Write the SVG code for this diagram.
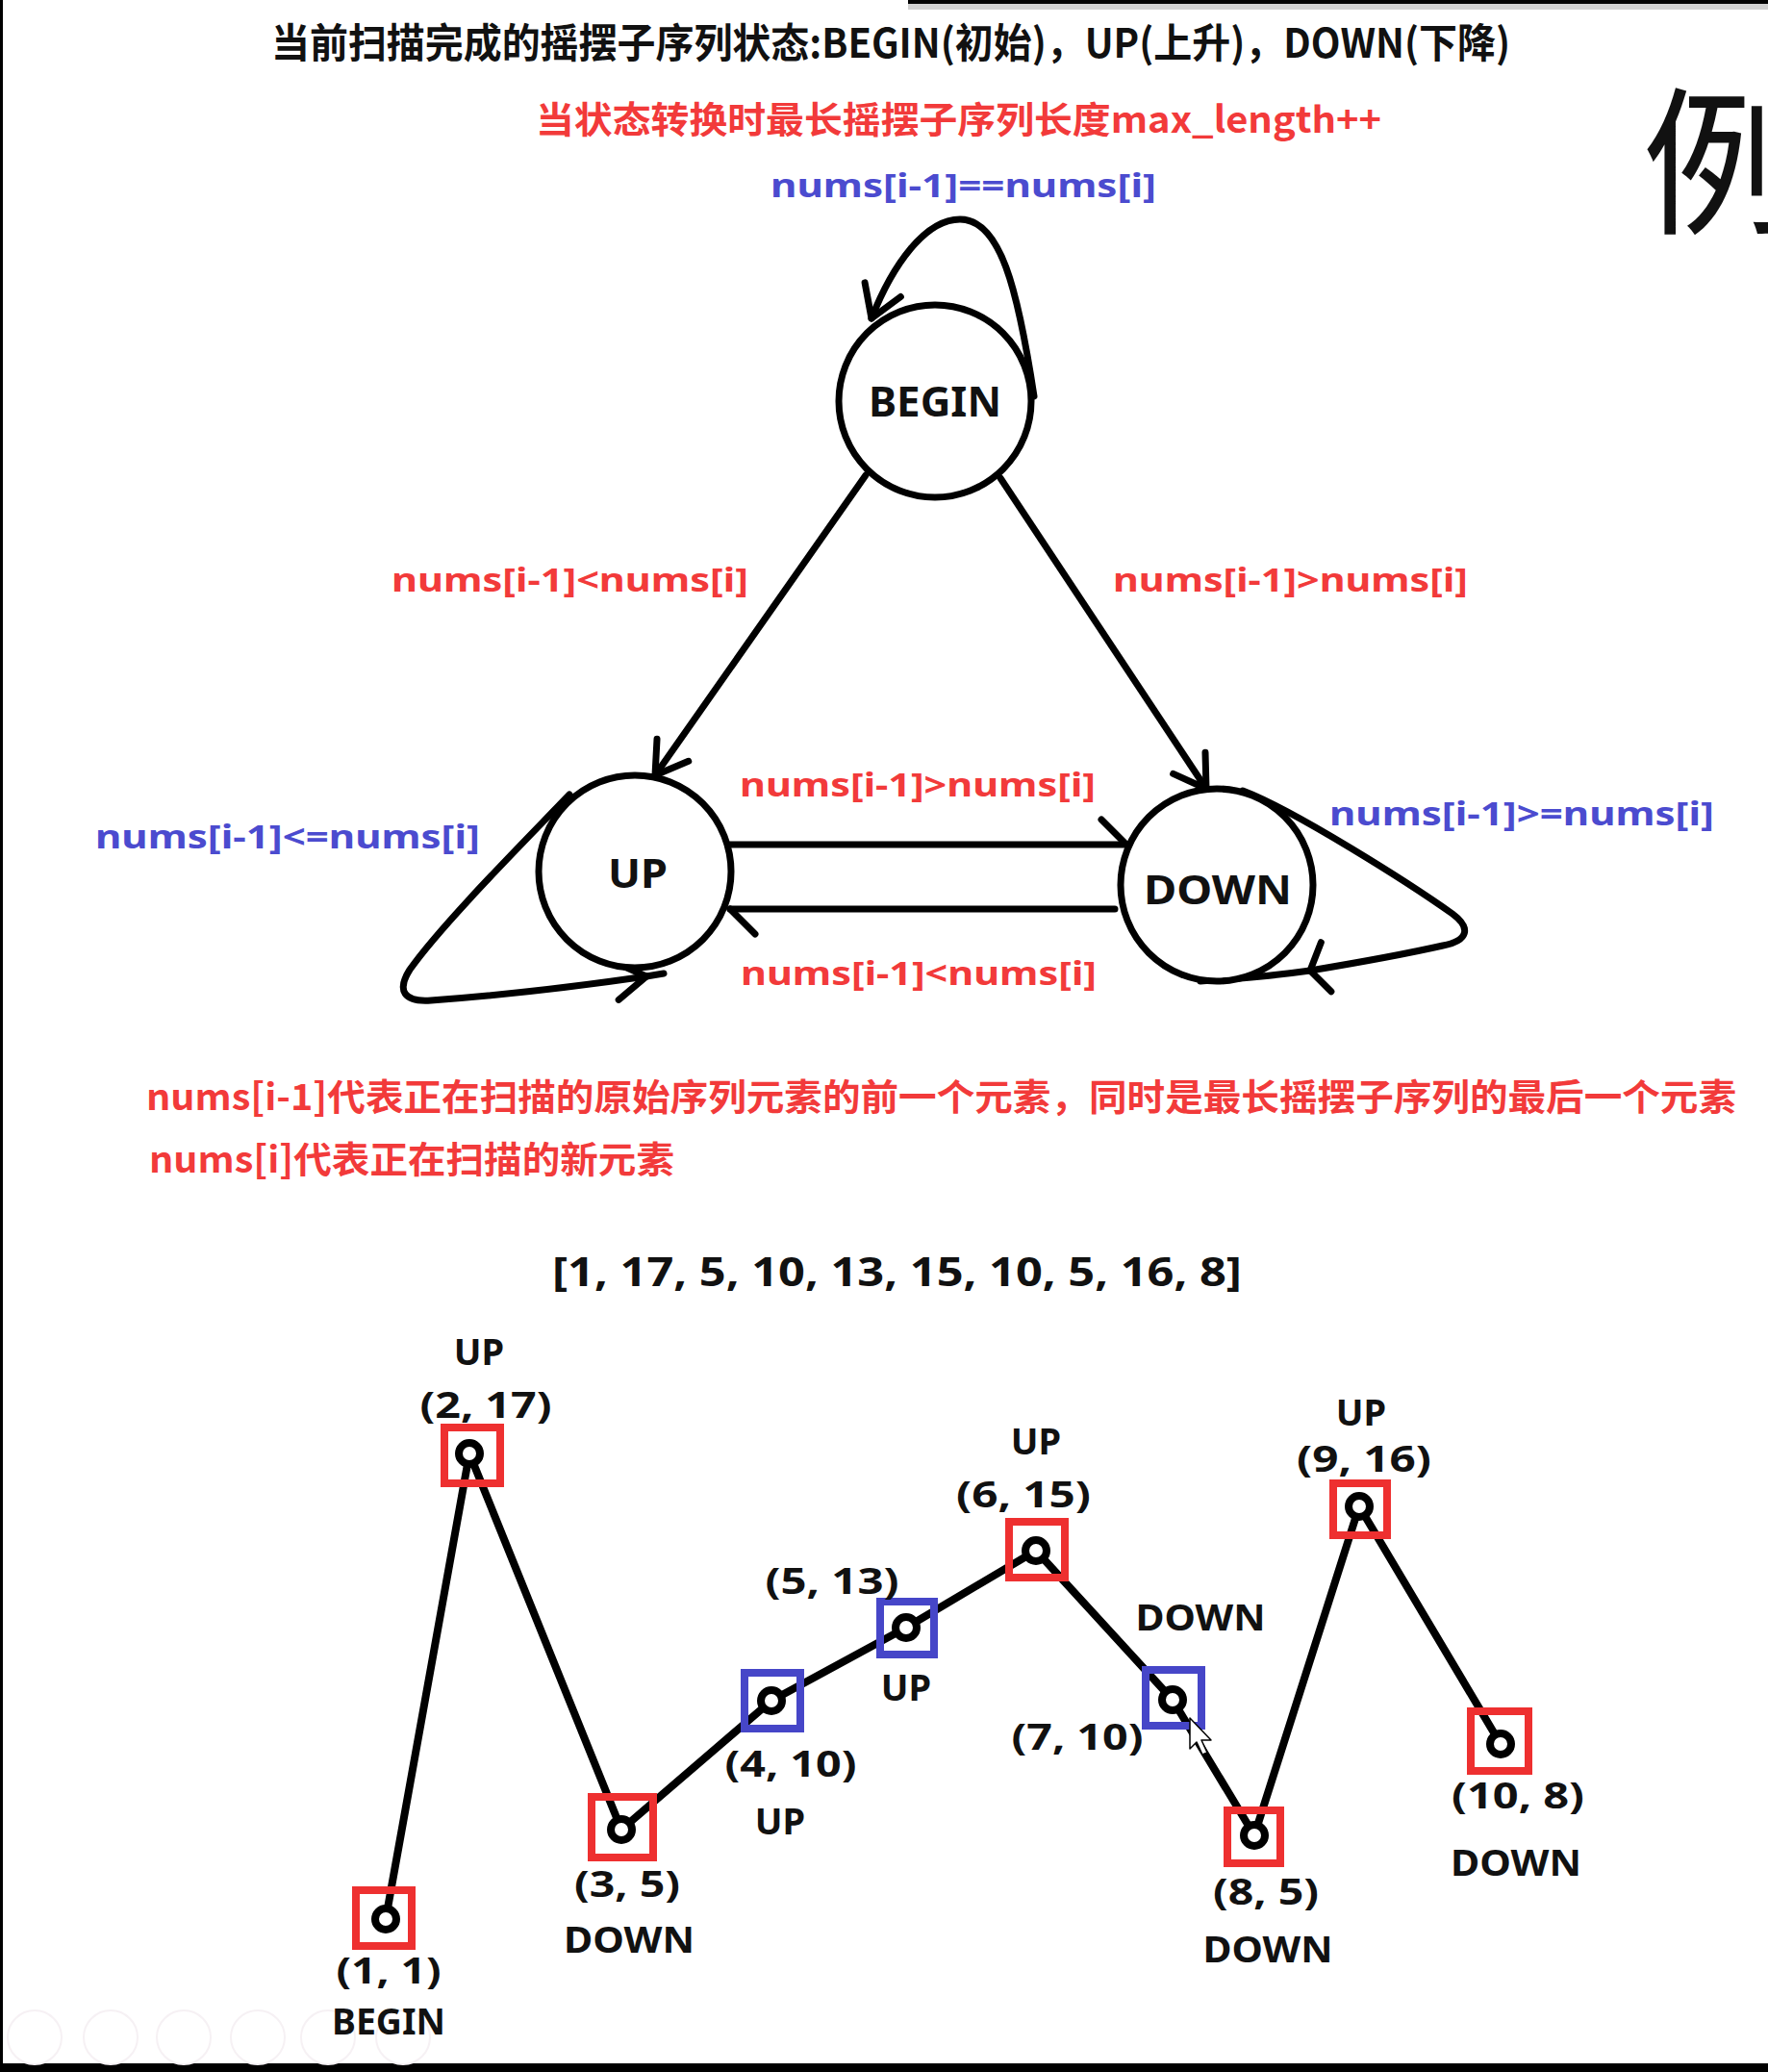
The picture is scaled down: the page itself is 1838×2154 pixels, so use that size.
<svg xmlns="http://www.w3.org/2000/svg" width="1838" height="2154" viewBox="0 0 1838 2154">
<style>
.t{font-family:"Noto Sans","Open Sans","Liberation Sans",sans-serif;font-weight:bold;fill:#111;}
.cjk{font-family:"Noto Sans CJK SC","Noto Sans",sans-serif;font-weight:bold;}
.red{fill:#f23a3a;}
.blue{fill:#4b4bcf;}
.st{fill:#fff;stroke:#000;stroke-width:7;}
.edge{fill:none;stroke:#000;stroke-width:7;stroke-linecap:round;stroke-linejoin:round;}
.chain{fill:none;stroke:#000;stroke-width:8;stroke-linecap:round;stroke-linejoin:round;}
.sqr{fill:none;stroke:#ee3030;stroke-width:8;}
.sqb{fill:none;stroke:#4646c8;stroke-width:8;}
.dot{fill:#fff;stroke:#000;stroke-width:8;}
.ic{fill:none;stroke:#f6f1f4;stroke-width:2;}
</style>
<defs>
<marker id="arr" markerUnits="userSpaceOnUse" markerWidth="80" markerHeight="80" viewBox="-50 -40 80 80" refX="0" refY="0" orient="auto">
<path d="M-32,-20 L0,0 L-32,20" fill="none" stroke="#000" stroke-width="7" stroke-linecap="round" stroke-linejoin="round"/>
</marker>
<marker id="arrw" markerUnits="userSpaceOnUse" markerWidth="80" markerHeight="80" viewBox="-50 -40 80 80" refX="0" refY="0" orient="auto">
<path d="M-18,-25 L0,0 L-16,27" fill="none" stroke="#000" stroke-width="7" stroke-linecap="round" stroke-linejoin="round"/>
</marker>
<marker id="harp" markerUnits="userSpaceOnUse" markerWidth="80" markerHeight="80" viewBox="-50 -40 80 80" refX="0" refY="0" orient="auto">
<path d="M-26,-26 L0,0" fill="none" stroke="#000" stroke-width="7" stroke-linecap="round"/>
</marker>
</defs>
<rect x="0" y="0" width="1838" height="2154" fill="#fff"/>
<rect x="944" y="0" width="894" height="10" fill="#cfcfcf"/>
<rect x="944" y="0" width="894" height="4" fill="#000"/>
<rect x="0" y="0" width="3" height="2154" fill="#000"/>
<rect x="0" y="2145" width="1838" height="9" fill="#000"/>

<g id="toolbar">
<circle class="ic" cx="36" cy="2118" r="28"/>
<circle class="ic" cx="115" cy="2118" r="28"/>
<circle class="ic" cx="191" cy="2118" r="28"/>
<circle class="ic" cx="268" cy="2118" r="28"/>
<circle class="ic" cx="341" cy="2118" r="28"/>
<circle class="ic" cx="419" cy="2118" r="28"/>
</g>

<g id="headings">
<text class="t cjk" x="282" y="60" font-size="42" textLength="1288" lengthAdjust="spacingAndGlyphs">当前扫描完成的摇摆子序列状态:BEGIN(初始)，UP(上升)，DOWN(下降)</text>
<text class="t cjk red" x="557" y="138" font-size="38" textLength="879" lengthAdjust="spacingAndGlyphs">当状态转换时最长摇摆子序列长度max_length++</text>
<text x="1707" y="230" font-size="165" font-family="Noto Sans CJK SC,sans-serif" fill="#111">例</text>
</g>

<g id="connectors">
<path class="edge" d="M1075,412 C1058,300 1040,228 998,228 C962,228 928,275 906,331" marker-end="url(#arr)"/>
<path class="edge" d="M900,494 L681,806" marker-end="url(#arr)"/>
<path class="edge" d="M1040,497 L1254,820" marker-end="url(#arr)"/>
<path class="edge" d="M759,878 L1171,878" stroke-width="8" marker-end="url(#harp)"/>
<path class="edge" d="M1159,945 L759,945" stroke-width="8" marker-end="url(#harp)"/>
<path class="edge" d="M592,826 C545,875 460,960 426,1008 C412,1030 420,1042 448,1040 C530,1034 610,1024 672,1015" marker-end="url(#arr)"/>
<path class="edge" d="M672,1015 L690,1012"/>
<path class="edge" d="M1292,822 C1345,842 1465,918 1510,950 C1530,965 1526,978 1500,983 C1460,992 1410,1001 1362,1009" marker-end="url(#arrw)"/>
<path class="edge" d="M1362,1009 C1320,1015 1280,1018 1248,1020"/>
</g>

<g id="state-begin">
<circle class="st" cx="972" cy="417" r="100"/>
<text class="t" x="972" y="433" font-size="43" text-anchor="middle" textLength="138" lengthAdjust="spacingAndGlyphs">BEGIN</text>
</g>
<g id="state-up">
<circle class="st" cx="660" cy="906" r="100"/>
<text class="t" x="663" y="923" font-size="42" text-anchor="middle" textLength="62" lengthAdjust="spacingAndGlyphs">UP</text>
</g>
<g id="state-down">
<circle class="st" cx="1265" cy="920" r="100"/>
<text class="t" x="1266" y="940" font-size="42" text-anchor="middle" textLength="154" lengthAdjust="spacingAndGlyphs">DOWN</text>
</g>

<g id="edge-labels" font-size="34">
<text class="t blue" x="801" y="205" font-size="34" textLength="401" lengthAdjust="spacingAndGlyphs">nums[i-1]==nums[i]</text>
<text class="t red" x="407" y="615" font-size="34" textLength="371" lengthAdjust="spacingAndGlyphs">nums[i-1]&lt;nums[i]</text>
<text class="t red" x="1157" y="615" font-size="34" textLength="369" lengthAdjust="spacingAndGlyphs">nums[i-1]&gt;nums[i]</text>
<text class="t red" x="769" y="828" font-size="34" textLength="370" lengthAdjust="spacingAndGlyphs">nums[i-1]&gt;nums[i]</text>
<text class="t red" x="770" y="1024" font-size="34" textLength="370" lengthAdjust="spacingAndGlyphs">nums[i-1]&lt;nums[i]</text>
<text class="t blue" x="99" y="882" font-size="34" textLength="400" lengthAdjust="spacingAndGlyphs">nums[i-1]&lt;=nums[i]</text>
<text class="t blue" x="1382" y="858" font-size="34" textLength="400" lengthAdjust="spacingAndGlyphs">nums[i-1]&gt;=nums[i]</text>
</g>

<g id="notes">
<text class="t cjk red" x="152" y="1154" font-size="38" textLength="1653" lengthAdjust="spacingAndGlyphs">nums[i-1]代表正在扫描的原始序列元素的前一个元素，同时是最长摇摆子序列的最后一个元素</text>
<text class="t cjk red" x="155" y="1219" font-size="38" textLength="546" lengthAdjust="spacingAndGlyphs">nums[i]代表正在扫描的新元素</text>
<text class="t" x="574" y="1337" font-size="42" textLength="717" lengthAdjust="spacingAndGlyphs">[1, 17, 5, 10, 13, 15, 10, 5, 16, 8]</text>
</g>

<g id="sequence-lines">
<polyline class="chain" points="401,1995 488,1511 646,1902 802,1768 942,1692 1077,1612 1219,1767 1304,1908 1413,1566 1560,1813"/>
</g>

<g id="p1"><rect class="sqr" x="370" y="1965" width="58" height="58"/><circle class="dot" cx="401" cy="1995" r="11"/>
<text class="t" x="404" y="2062" font-size="38" text-anchor="middle" textLength="109" lengthAdjust="spacingAndGlyphs">(1, 1)</text>
<text class="t" x="404" y="2115" font-size="38" text-anchor="middle" textLength="118" lengthAdjust="spacingAndGlyphs">BEGIN</text></g>

<g id="p2"><rect class="sqr" x="462" y="1484" width="58" height="58"/><circle class="dot" cx="488" cy="1511" r="11"/>
<text class="t" x="498" y="1419" font-size="38" text-anchor="middle">UP</text>
<text class="t" x="505" y="1474" font-size="38" text-anchor="middle" textLength="137" lengthAdjust="spacingAndGlyphs">(2, 17)</text></g>

<g id="p3"><rect class="sqr" x="615" y="1868" width="64" height="63"/><circle class="dot" cx="646" cy="1902" r="11"/>
<text class="t" x="652" y="1972" font-size="38" text-anchor="middle" textLength="110" lengthAdjust="spacingAndGlyphs">(3, 5)</text>
<text class="t" x="654" y="2030" font-size="38" text-anchor="middle" textLength="136" lengthAdjust="spacingAndGlyphs">DOWN</text></g>

<g id="p4"><rect class="sqb" x="774" y="1739" width="58" height="58"/><circle class="dot" cx="802" cy="1768" r="11"/>
<text class="t" x="822" y="1847" font-size="38" text-anchor="middle" textLength="137" lengthAdjust="spacingAndGlyphs">(4, 10)</text>
<text class="t" x="811" y="1907" font-size="38" text-anchor="middle">UP</text></g>

<g id="p5"><rect class="sqb" x="915" y="1665" width="56" height="55"/><circle class="dot" cx="942" cy="1692" r="11"/>
<text class="t" x="865" y="1657" font-size="38" text-anchor="middle" textLength="139" lengthAdjust="spacingAndGlyphs">(5, 13)</text>
<text class="t" x="942" y="1768" font-size="38" text-anchor="middle">UP</text></g>

<g id="p6"><rect class="sqr" x="1049" y="1582" width="58" height="58"/><circle class="dot" cx="1077" cy="1612" r="11"/>
<text class="t" x="1077" y="1512" font-size="38" text-anchor="middle">UP</text>
<text class="t" x="1064" y="1567" font-size="38" text-anchor="middle" textLength="140" lengthAdjust="spacingAndGlyphs">(6, 15)</text></g>

<g id="p7"><rect class="sqb" x="1191" y="1736" width="58" height="58"/><circle class="dot" cx="1219" cy="1767" r="11"/>
<text class="t" x="1248" y="1695" font-size="38" text-anchor="middle" textLength="135" lengthAdjust="spacingAndGlyphs">DOWN</text>
<text class="t" x="1120" y="1819" font-size="38" text-anchor="middle" textLength="137" lengthAdjust="spacingAndGlyphs">(7, 10)</text></g>

<g id="p8"><rect class="sqr" x="1276" y="1882" width="55" height="55"/><circle class="dot" cx="1304" cy="1908" r="11"/>
<text class="t" x="1316" y="1980" font-size="38" text-anchor="middle" textLength="110" lengthAdjust="spacingAndGlyphs">(8, 5)</text>
<text class="t" x="1318" y="2040" font-size="38" text-anchor="middle" textLength="135" lengthAdjust="spacingAndGlyphs">DOWN</text></g>

<g id="p9"><rect class="sqr" x="1386" y="1542" width="56" height="54"/><circle class="dot" cx="1413" cy="1566" r="11"/>
<text class="t" x="1415" y="1482" font-size="38" text-anchor="middle">UP</text>
<text class="t" x="1418" y="1530" font-size="38" text-anchor="middle" textLength="140" lengthAdjust="spacingAndGlyphs">(9, 16)</text></g>

<g id="p10"><rect class="sqr" x="1529" y="1779" width="60" height="62"/><circle class="dot" cx="1560" cy="1813" r="11"/>
<text class="t" x="1578" y="1880" font-size="38" text-anchor="middle" textLength="138" lengthAdjust="spacingAndGlyphs">(10, 8)</text>
<text class="t" x="1576" y="1950" font-size="38" text-anchor="middle" textLength="136" lengthAdjust="spacingAndGlyphs">DOWN</text></g>

<g id="cursor">
<path d="M1237,1786 L1237,1818 L1244,1811 L1250,1824 L1255,1822 L1249,1809 L1259,1809 Z" fill="#fff" stroke="#000" stroke-width="1.5" stroke-linejoin="round"/>
</g>
</svg>
